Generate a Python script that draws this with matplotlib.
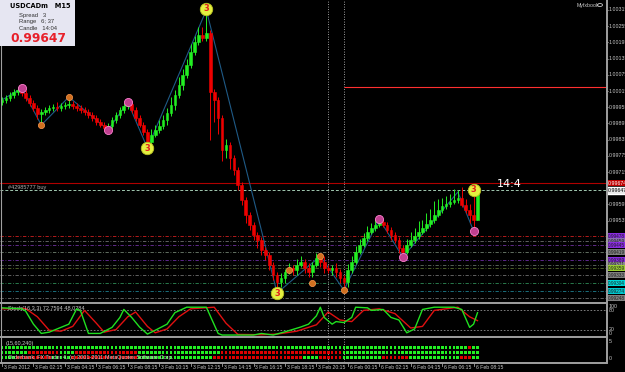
import numpy as np
import matplotlib
matplotlib.use("Agg")
import matplotlib.pyplot as plt
import matplotlib.transforms as mtransforms
from matplotlib.patches import Rectangle
from matplotlib.lines import Line2D

W, H = 625, 372

# USDCAD M15 bars (closes and wick lengths in pips)
first_open = 0.99975
close = [
    0.99982, 0.99989, 1.00000, 1.00012, 1.00019, 1.00008, 0.99989, 0.99971, 0.99952, 0.99930,
    0.99938, 0.99945, 0.99952, 0.99956, 0.99952, 0.99960, 0.99964, 0.99967, 0.99960, 0.99952,
    0.99945, 0.99938, 0.99927, 0.99915, 0.99901, 0.99890, 0.99878, 0.99886, 0.99908, 0.99927,
    0.99945, 0.99960, 0.99967, 0.99945, 0.99915, 0.99890, 0.99864, 0.99827, 0.99853, 0.99871,
    0.99886, 0.99908, 0.99934, 0.99964, 1.00000, 1.00038, 1.00075, 1.00112, 1.00160, 1.00197,
    1.00223, 1.00211, 1.00230, 1.00012, 0.99982, 0.99915, 0.99797, 0.99816, 0.99767, 0.99723,
    0.99668, 0.99612, 0.99557, 0.99520, 0.99483, 0.99464, 0.99427, 0.99409, 0.99372, 0.99335,
    0.99309, 0.99323, 0.99346, 0.99360, 0.99353, 0.99372, 0.99383, 0.99360, 0.99346, 0.99372,
    0.99397, 0.99383, 0.99360, 0.99353, 0.99360, 0.99346, 0.99323, 0.99309, 0.99353, 0.99383,
    0.99420, 0.99446, 0.99471, 0.99494, 0.99508, 0.99520, 0.99531, 0.99520, 0.99501, 0.99483,
    0.99464, 0.99434, 0.99420, 0.99446, 0.99464, 0.99479, 0.99494, 0.99508, 0.99523, 0.99538,
    0.99557, 0.99575, 0.99590, 0.99597, 0.99605, 0.99612, 0.99619, 0.99594, 0.99575, 0.99557,
    0.99538, 0.99647,
]
up_wick = [
    1, 1, 1, 1, 1, 1, 1, 1, 1, 1,
    1, 1, 1, 1, 2, 1, 1, 2, 1, 1,
    1, 1, 1, 1, 1, 1, 1, 1, 1, 1,
    1, 1, 1, 1, 1, 1, 1, 1, 2, 2,
    2, 2, 2, 3, 2, 3, 2, 2, 3, 2,
    3, 3, 7, 1, 1, 1, 1, 2, 1, 1,
    1, 1, 1, 1, 1, 1, 1, 1, 1, 1,
    1, 2, 1, 2, 1, 2, 2, 1, 2, 1,
    2, 1, 2, 1, 1, 2, 1, 1, 2, 2,
    2, 2, 2, 2, 2, 2, 2, 1, 1, 1,
    1, 1, 1, 2, 3, 3, 4, 3, 4, 4,
    5, 4, 3, 3, 3, 4, 3, 4, 2, 2,
    7, 1,
]
dn_wick = [
    1, 1, 1, 1, 1, 1, 1, 1, 1, 2,
    4, 1, 1, 1, 1, 1, 1, 1, 1, 1,
    1, 1, 1, 1, 1, 1, 1, 1, 1, 1,
    1, 1, 1, 1, 1, 1, 1, 2, 1, 1,
    1, 1, 2, 1, 2, 1, 2, 1, 1, 1,
    1, 1, 1, 18, 8, 6, 4, 3, 4, 2,
    2, 2, 3, 2, 2, 3, 2, 2, 2, 2,
    4, 2, 2, 1, 2, 2, 1, 2, 2, 2,
    1, 2, 2, 1, 2, 2, 2, 3, 2, 1,
    1, 1, 1, 1, 1, 1, 1, 1, 1, 2,
    1, 2, 2, 1, 1, 1, 1, 1, 1, 1,
    1, 1, 1, 1, 1, 1, 1, 1, 1, 3,
    4, 0,
]

# zigzag and pivot markers
zz_bars = [0, 5, 10, 17, 27, 32, 37, 52, 70, 81, 87, 96, 102, 116, 120]
zz_price = [0.99982, 1.00026, 0.99889, 0.99993, 0.99871, 0.99974, 0.99804, 1.00315,
            0.99267, 0.99404, 0.99278, 0.99541, 0.99400, 0.99641, 0.99497]
yellow_bars = [37, 52, 70, 120]
yellow_price = [0.99804, 1.00319, 0.99267, 0.99649]
pink_bars = [5, 27, 32, 96, 102, 120]
pink_price = [1.00026, 0.99871, 0.99974, 0.99541, 0.99400, 0.99497]
orange_bars = [10, 17, 73, 79, 81, 87]
orange_price = [0.99889, 0.99993, 0.99352, 0.99304, 0.99404, 0.99278]

# horizontal levels
red_level = 1.00030
order_level = 0.99674
bid_level = 0.99647
pivot_levels = [0.99478, 0.99459, 0.99445, 0.99419, 0.99389, 0.99371,
                0.99359, 0.99333, 0.99304, 0.99274, 0.99248]
pivot_line_colors = ['#d02020', '#707070', '#7030a0', '#708070', '#6a2ca0', '#607060',
                     '#556b2f', '#707070', '#2e8b57', '#1f7f8f', '#707070']
pivot_box_colors = ['#8a2be2', '#8a6fb0', '#8a2be2', '#808080', '#8a2be2', '#909090',
                    '#9acd32', '#808080', '#00d8d8', '#00c8d0', '#808080']
price_ticks = [1.00315, 1.00255, 1.00195, 1.00135, 1.00075, 1.00015, 0.99955,
               0.99895, 0.99835, 0.99775, 0.99715, 0.99595, 0.99535]

# stochastic (vertices of %K and %D lines)
k_bars = [0, 5, 6, 8, 10, 12, 15, 17, 19, 20, 22, 25, 28, 30, 31, 33, 35, 37, 39, 42,
          44, 47, 52, 55, 56, 64, 66, 69, 72, 76, 78, 80, 81, 82, 84, 85, 87, 89, 90, 93,
          94, 97, 99, 101, 103, 105, 107, 110, 115, 117, 119, 120, 121]
k_vals = [88, 85, 78, 37, 8, 12, 27, 37, 85, 78, 8, 8, 27, 58, 83, 58, 28, 6, 18, 37,
          73, 90, 90, 8, 3, 3, 8, 3, 13, 28, 37, 63, 90, 58, 37, 45, 42, 58, 90, 88,
          80, 83, 58, 50, 10, 22, 83, 90, 90, 83, 27, 37, 72.76]
d_bars = [0, 6, 9, 12, 15, 18, 21, 24, 26, 29, 32, 34, 37, 39, 42, 45, 48, 54, 57, 60,
          66, 70, 75, 80, 83, 86, 89, 92, 96, 100, 104, 107, 110, 116, 119, 121]
d_vals = [85, 86, 60, 18, 15, 30, 80, 40, 12, 20, 60, 75, 30, 10, 22, 60, 85, 90, 40, 5,
          4, 6, 15, 35, 75, 50, 45, 80, 85, 70, 25, 30, 80, 90, 60, 48.03]

# trend dots (first bar, last bar, colour) per row
row1 = [(0, 118, 'g'), (119, 119, 'r'), (120, 121, 'g')]
row2 = [(0, 6, 'g'), (7, 14, 'r'), (15, 18, 'g'), (19, 34, 'r'), (35, 55, 'g'),
        (56, 86, 'r'), (87, 121, 'g')]
row3 = [(0, 3, 'g'), (4, 12, 'r'), (13, 17, 'g'), (18, 34, 'r'), (35, 53, 'g'),
        (54, 76, 'r'), (77, 80, 'g'), (81, 86, 'r'), (87, 96, 'g'), (97, 103, 'r'),
        (104, 116, 'g'), (117, 119, 'r'), (120, 121, 'g')]

time_bars = [0, 8, 16, 24, 32, 40, 48, 56, 64, 72, 80, 88, 96, 104, 112, 120]
time_labels = ["3 Feb 2012", "3 Feb 02:15", "3 Feb 04:15", "3 Feb 06:15", "3 Feb 08:15",
               "3 Feb 10:15", "3 Feb 12:15", "3 Feb 14:15", "3 Feb 16:15", "3 Feb 18:15",
               "3 Feb 20:15", "6 Feb 00:15", "6 Feb 02:15", "6 Feb 04:15", "6 Feb 06:15",
               "6 Feb 08:15"]
vlines_bars = [83, 87]

BULL = '#22ee22'
BEAR = '#ee0000'
GRID = '#a0a0a0'
TXT = '#c8c8c8'
SMALL = 'Liberation Sans'

fig = plt.figure(figsize=(W / 100, H / 100), dpi=100, facecolor='black')


def px_axes(x0, y0, x1, y1):
    ax = fig.add_axes([x0 / W, 1 - y1 / H, (x1 - x0) / W, (y1 - y0) / H])
    ax.set_facecolor('black')
    ax.set_xticks([])
    ax.set_yticks([])
    for s in ax.spines.values():
        s.set_visible(False)
    ax.set_xlim(-0.51, 153.7)
    return ax


def fig_line(x0, y0, x1, y1, color=GRID, lw=1.4):
    fig.add_artist(Line2D([x0 / W, x1 / W], [1 - y0 / H, 1 - y1 / H],
                          transform=fig.transFigure, color=color, lw=lw))


ax = px_axes(0, 0, 606, 302)
ax2 = px_axes(0, 304, 606, 336)
ax3 = px_axes(0, 338, 606, 362)
ax.set_ylim(0.99234, 1.00352)
ax2.set_ylim(0, 100)
ax3.set_ylim(3.0, -1.8)

# candles
c = np.array(close)
o = np.r_[first_open, c[:-1]]
idx = np.arange(len(c))
hi = np.maximum(o, c) + np.array(up_wick) * 1e-4
lo = np.minimum(o, c) - np.array(dn_wick) * 1e-4
cols = np.where(c >= o, BULL, BEAR)
ax.vlines(idx, lo, hi, colors=cols, lw=0.7, zorder=3)
ax.bar(idx, c - o, bottom=o, width=0.68, color=cols, edgecolor=cols, lw=0.4, zorder=3)

# levels
xmax = 153.7
ax.hlines(red_level, 87, xmax, color='#ff3030', lw=0.8, zorder=2)
ax.axhline(order_level, color='#b00000', lw=0.8, zorder=2)
ax.axhline(bid_level, color='#a0c8b0', lw=0.7, ls=(0, (3, 2)), zorder=2)
for lev, lc in zip(pivot_levels, pivot_line_colors):
    ax.axhline(lev, color=lc, lw=0.6, ls=(0, (4, 2, 1, 2)), zorder=1)
for b in vlines_bars:
    for a in (ax, ax2, ax3):
        a.axvline(b, color='#d0d0d0', lw=0.6, ls=(0, (1, 2)), zorder=1)

# zigzag + pivot circles
ax.plot(zz_bars, zz_price, color='#1f5a86', lw=0.8, zorder=2)
ax.scatter(orange_bars, orange_price, s=20, color='#d07020', edgecolor='#ff9a50',
           lw=0.5, zorder=5)
ax.scatter(pink_bars, pink_price, s=34, color='#c04090', edgecolor='#ff80d0',
           lw=0.6, zorder=5)
ax.scatter(yellow_bars, yellow_price, s=80, color='#e4f040', edgecolor='#b8c020',
           lw=0.6, zorder=5)
for b, p in zip(yellow_bars, yellow_price):
    ax.text(b, p, '3', color='#e02020', fontsize=6, fontweight='bold',
            ha='center', va='center', zorder=6)

# right price scale
tr_r = mtransforms.blended_transform_factory(fig.transFigure, ax.transData)
for p in price_ticks:
    ax.text(609 / W, p, f'{p:.5f}', transform=tr_r, color=TXT, fontsize=3.8,
            family=SMALL, va='center', ha='left', clip_on=False)
    ax.plot([606 / W, 608 / W], [p, p], transform=tr_r, color=GRID, lw=0.5, clip_on=False)
ax.text(608 / W, order_level, f'{order_level:.5f}', transform=tr_r, color='white',
        fontsize=3.8, family=SMALL, va='center', ha='left', clip_on=False,
        bbox=dict(boxstyle='square,pad=0.15', fc='#c00000', ec='none'))
ax.text(608 / W, bid_level, f'{bid_level:.5f}', transform=tr_r, color='black',
        fontsize=3.8, family=SMALL, va='center', ha='left', clip_on=False,
        bbox=dict(boxstyle='square,pad=0.15', fc='#e8e8e8', ec='white'))
for lev, bc in zip(pivot_levels, pivot_box_colors):
    ax.text(608 / W, lev, f'{lev:.5f}', transform=tr_r, color='#202020',
            fontsize=3.4, family=SMALL, va='center', ha='left', clip_on=False,
            bbox=dict(boxstyle='square,pad=0.1', fc=bc, ec='none'))

# texts on the main pane
ax.text(1.5, bid_level + 0.00003, '#42985777 buy', color='#b0b0b0', fontsize=4,
        family=SMALL, va='bottom', ha='left')
fig.text(497 / W, 1 - 184 / H, '14:4', color='white', fontsize=8, va='center', ha='left')
fig.text(577 / W, 1 - 5 / H, 'Myfxbook', color=TXT, fontsize=3.8, family=SMALL,
         va='center', ha='left')
fig.add_artist(plt.Circle((600 / W, 1 - 5 / H), 2.5 / W, transform=fig.transFigure,
                          fill=False, ec=TXT, lw=0.6))

# info box
fig.add_artist(Rectangle((0, 1 - 46 / H), 75 / W, 46 / H, transform=fig.transFigure,
                         fc='#e6e6f2', ec='none', zorder=10))
fig.text(40 / W, 1 - 6.5 / H, 'USDCADm   M15', color='black', fontsize=4.8,
         fontweight='bold', ha='center', va='center', zorder=11)
fig.text(19 / W, 1 - 15 / H, 'Spread   3', color='#303030', fontsize=4.2,
         family=SMALL, ha='left', va='center', zorder=11)
fig.text(19 / W, 1 - 21.5 / H, 'Range   6; 37', color='#303030', fontsize=4.2,
         family=SMALL, ha='left', va='center', zorder=11)
fig.text(19 / W, 1 - 28 / H, 'Candle   14:04', color='#303030', fontsize=4.2,
         family=SMALL, ha='left', va='center', zorder=11)
fig.text(38 / W, 1 - 38.5 / H, '0.99647', color='#e8202a', fontsize=8.8,
         fontweight='bold', ha='center', va='center', zorder=11)

# stochastic pane
ax2.axhline(80, color='#909090', lw=0.6, ls=(0, (2, 2)))
ax2.axhline(20, color='#909090', lw=0.6, ls=(0, (2, 2)))
ax2.plot(d_bars, d_vals, color='#e01010', lw=1.0, zorder=3)
ax2.plot(k_bars, k_vals, color='#20e020', lw=1.0, zorder=4)
ax2.text(1.5, 93, 'Stoch(16,3,3) 72.7594 48.0284', color=TXT, fontsize=4,
         family=SMALL, va='top', ha='left')
tr_r2 = mtransforms.blended_transform_factory(fig.transFigure, ax2.transData)
for v, txt, va in [(100, '100', 'top'), (80, '80', 'center'), (20, '20', 'center'),
                   (0, '0', 'bottom')]:
    ax2.text(609 / W, v, txt, transform=tr_r2, color=TXT, fontsize=3.8, family=SMALL,
             va=va, ha='left', clip_on=False)

# trend dots pane
for r, segs in enumerate([row1, row2, row3]):
    for b0, b1, cc in segs:
        bb = np.arange(b0, b1 + 1)
        ax3.bar(bb, 0.6, bottom=r - 0.3, width=0.7, lw=0,
                color='#22ee22' if cc == 'g' else '#dd0000')
ax3.text(1.0, -1.3, '(15,60,240)', color=TXT, fontsize=4, family=SMALL,
         va='top', ha='left')
ax3.text(1.5, 2.1, 'Orderbank, FX Trader 4, (c) 2001-2011 MetaQuotes Software Corp.',
         color=TXT, fontsize=4, family=SMALL, va='center', ha='left', zorder=5)
tr_r3 = mtransforms.blended_transform_factory(fig.transFigure, ax3.transAxes)
ax3.text(609 / W, 0.95, '5', transform=tr_r3, color=TXT, fontsize=3.8, family=SMALL,
         va='top', ha='left', clip_on=False)
ax3.text(609 / W, 0.05, '0', transform=tr_r3, color=TXT, fontsize=3.8, family=SMALL,
         va='bottom', ha='left', clip_on=False)

# frame lines
fig_line(0, 303, 606, 303)
fig_line(0, 337, 606, 337)
fig_line(0, 363, 606, 363)
fig_line(606.5, 0, 606.5, 363)
fig_line(0.5, 0, 0.5, 363, lw=0.8)

# time axis
tr_t = mtransforms.blended_transform_factory(ax3.transData, fig.transFigure)
for b, lab in zip(time_bars, time_labels):
    ax3.plot([b, b], [1 - 363 / H, 1 - 366 / H], transform=tr_t, color=GRID,
             lw=0.6, clip_on=False)
    ax3.text(b + 0.5, 1 - 367.5 / H, lab, transform=tr_t, color=TXT, fontsize=3.7,
             family=SMALL, va='center', ha='left', clip_on=False)

fig.savefig('out.png', dpi=100, facecolor='black')
